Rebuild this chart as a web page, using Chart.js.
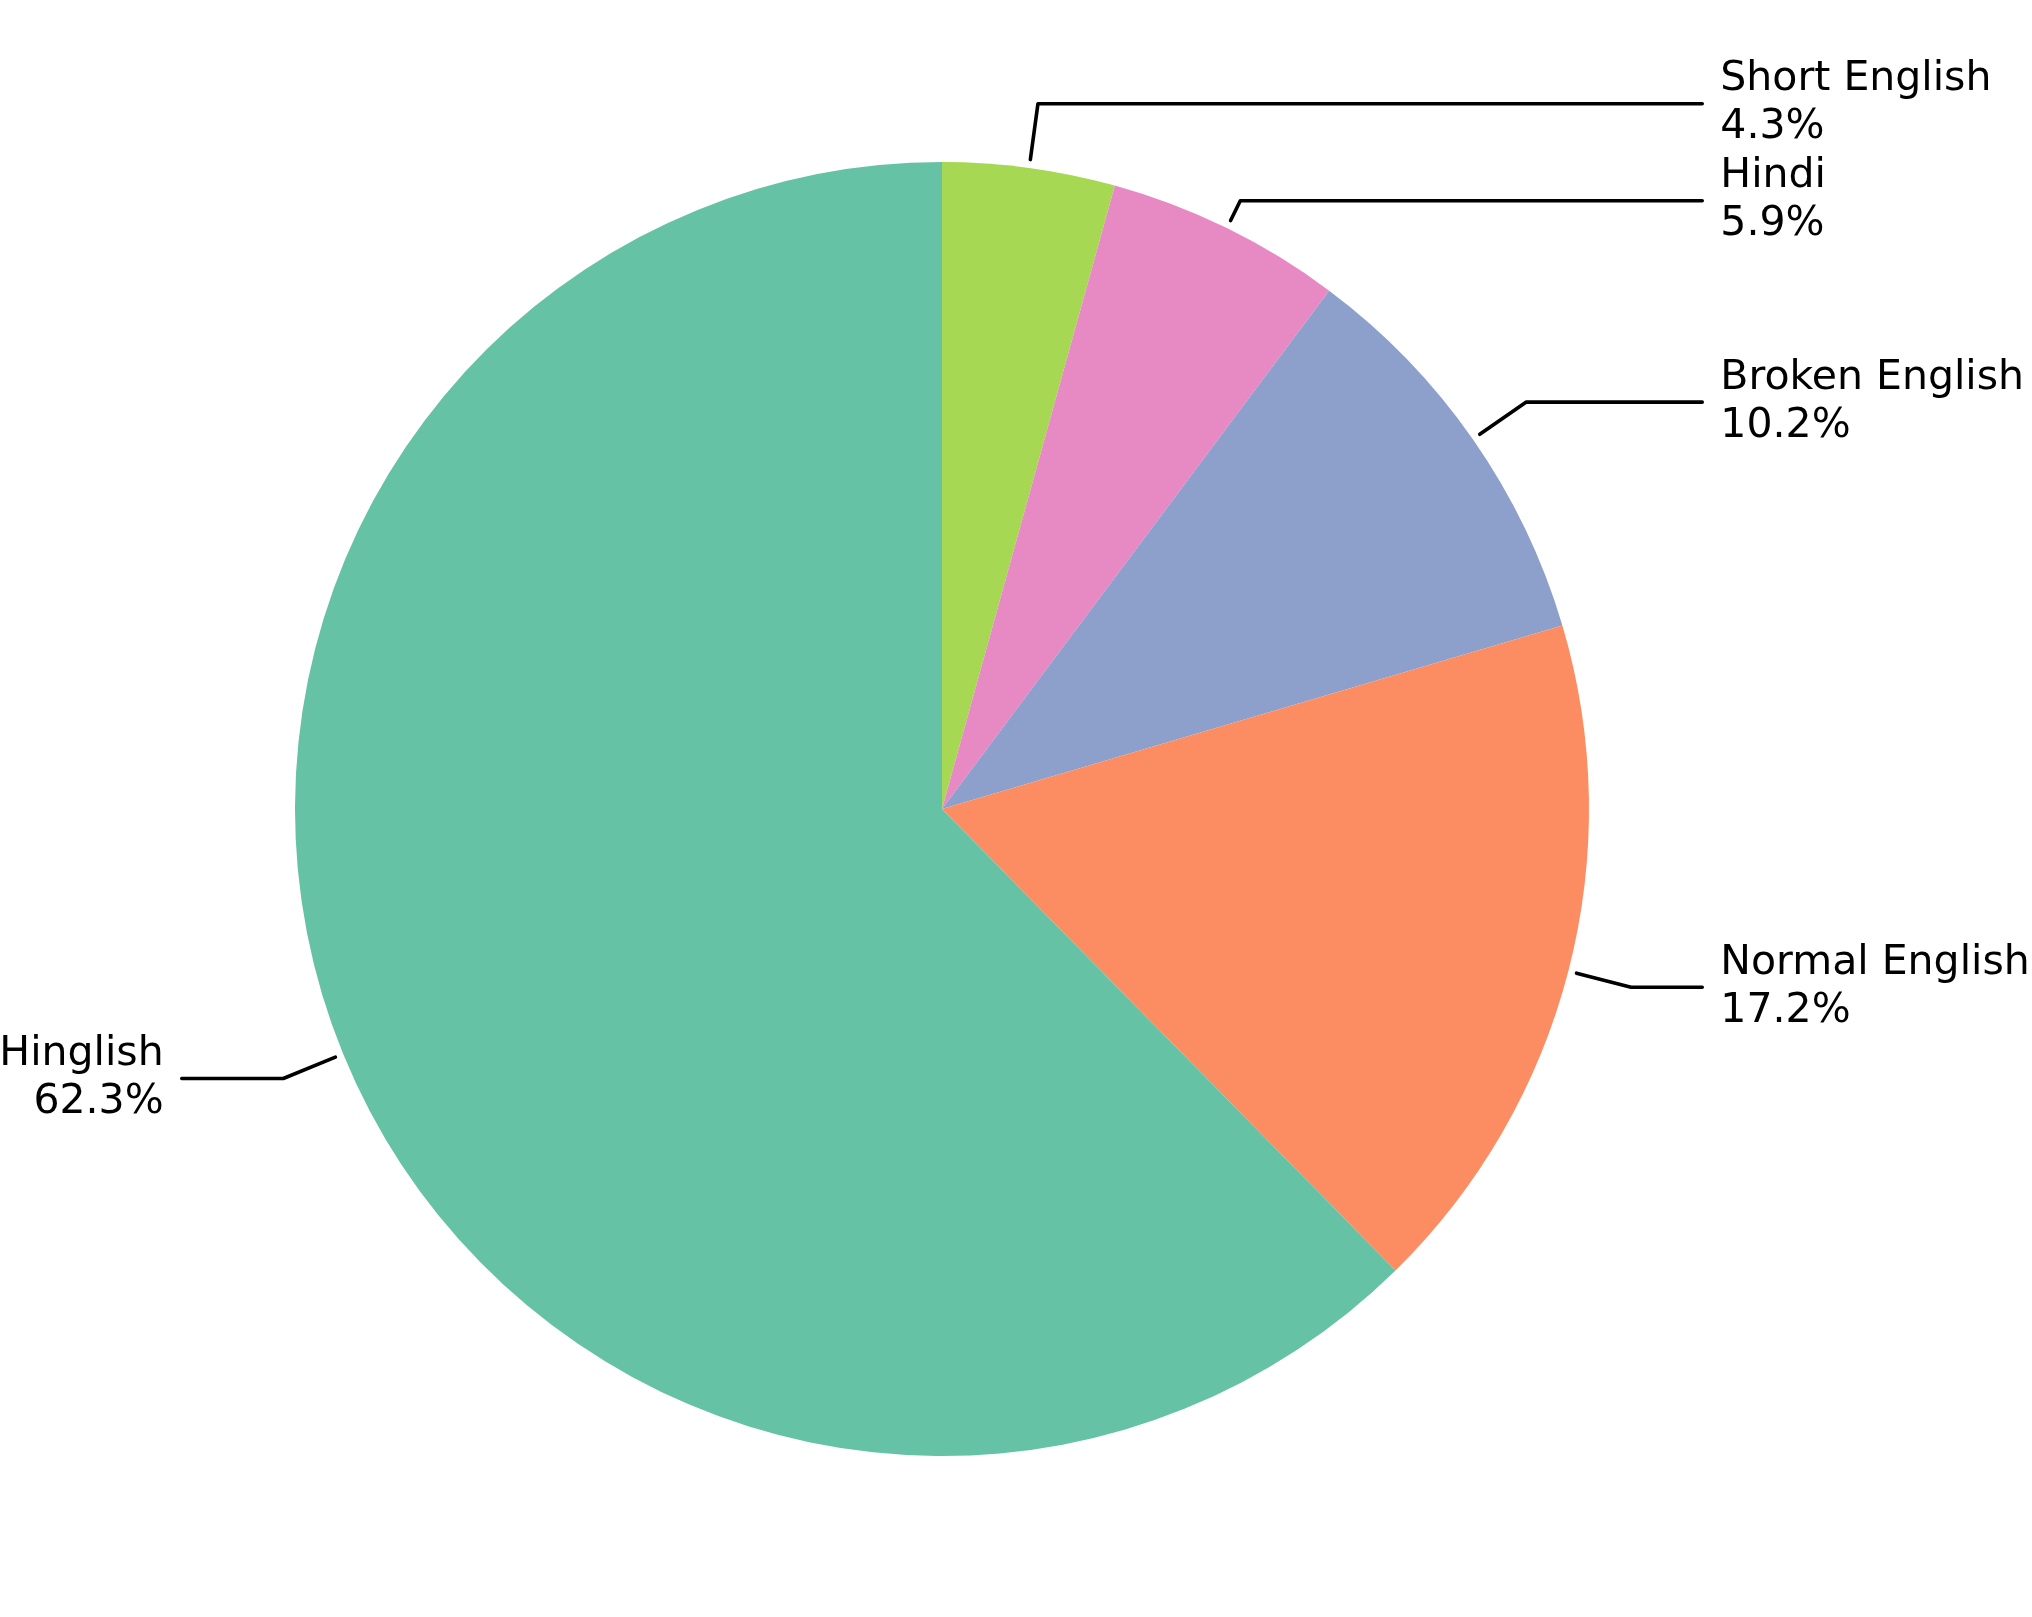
<!DOCTYPE html>
<html>
<head>
<meta charset="utf-8">
<script src="https://cdn.jsdelivr.net/npm/chart.js@4.4.0/dist/chart.umd.min.js"></script>
<style>
  html, body { margin: 0; padding: 0; background: #fff; }
  canvas { display: block; }
</style>
</head>
<body>
<canvas id="pie" width="2032" height="1617"></canvas>
<script>
// data, clockwise from 12 o'clock
const categories = ['Short English', 'Hindi', 'Broken English', 'Normal English', 'Hinglish'];
const shares = [4.3, 5.9, 10.2, 17.2, 62.3];
const sliceColors = ['#a6d854', '#e78ac3', '#8da0cb', '#fc8d62', '#66c2a5'];

// leader lines + two-line labels
const calloutPlugin = {
    id: 'callouts',
    afterDatasetsDraw(chart) {
        const ctx = chart.ctx;
        const arcs = chart.getDatasetMeta(0).data;
        const labels = [];
        arcs.forEach((arc, i) => {
            const mid = (arc.startAngle + arc.endAngle) / 2;
            const cx = arc.x, cy = arc.y, r = arc.outerRadius;
            const right = Math.cos(mid) >= 0;
            labels.push({
                i, mid, cx, cy, r, right,
                y: cy + 1.1 * r * Math.sin(mid)
            });
        });

        // push overlapping labels apart on each side
        const gap = 97;
        [true, false].forEach(side => {
            const group = labels.filter(l => l.right === side).sort((a, b) => a.y - b.y);
            for (let k = 1; k < group.length; k++) {
                if (group[k].y < group[k - 1].y + gap) group[k].y = group[k - 1].y + gap;
            }
        });

        ctx.save();
        ctx.strokeStyle = '#000';
        ctx.lineWidth = 3.6;
        ctx.lineCap = 'round';
        ctx.lineJoin = 'round';
        ctx.fillStyle = '#000';
        ctx.font = '41px "DejaVu Sans"';
        ctx.textBaseline = 'middle';
        labels.forEach(l => {
            const cos = Math.cos(l.mid), sin = Math.sin(l.mid);
            const sx = l.cx + 1.013 * l.r * cos;
            const sy = l.cy + 1.013 * l.r * sin;
            const er = (l.y - l.cy) / sin;
            const ex = l.cx + er * cos;
            const dir = l.right ? 1 : -1;
            const hx = l.cx + dir * 1.175 * l.r;
            ctx.beginPath();
            ctx.moveTo(sx, sy);
            ctx.lineTo(ex, l.y);
            ctx.lineTo(hx, l.y);
            ctx.stroke();

            const tx = l.cx + dir * 1.203 * l.r;
            ctx.textAlign = l.right ? 'left' : 'right';
            ctx.fillText(categories[l.i], tx, l.y - 24);
            ctx.fillText(shares[l.i].toFixed(1) + '%', tx, l.y + 24);
        });
        ctx.restore();
    }
};

new Chart(document.getElementById('pie'), {
    type: 'pie',
    data: {
        labels: categories,
        datasets: [{
            data: shares,
            backgroundColor: sliceColors,
            borderWidth: 0,
            hoverOffset: 0
        }]
    },
    options: {
        responsive: false,
        animation: false,
        devicePixelRatio: 1,
        layout: {
            padding: { left: 295, right: 443, top: 162, bottom: 161 }
        },
        plugins: {
            legend: { display: false },
            tooltip: { enabled: false }
        }
    },
    plugins: [calloutPlugin, {
        id: 'whiteBg',
        beforeDraw(chart) {
            const c = chart.ctx;
            c.save();
            c.fillStyle = '#fff';
            c.fillRect(0, 0, chart.width, chart.height);
            c.restore();
        }
    }]
});
</script>
</body>
</html>
